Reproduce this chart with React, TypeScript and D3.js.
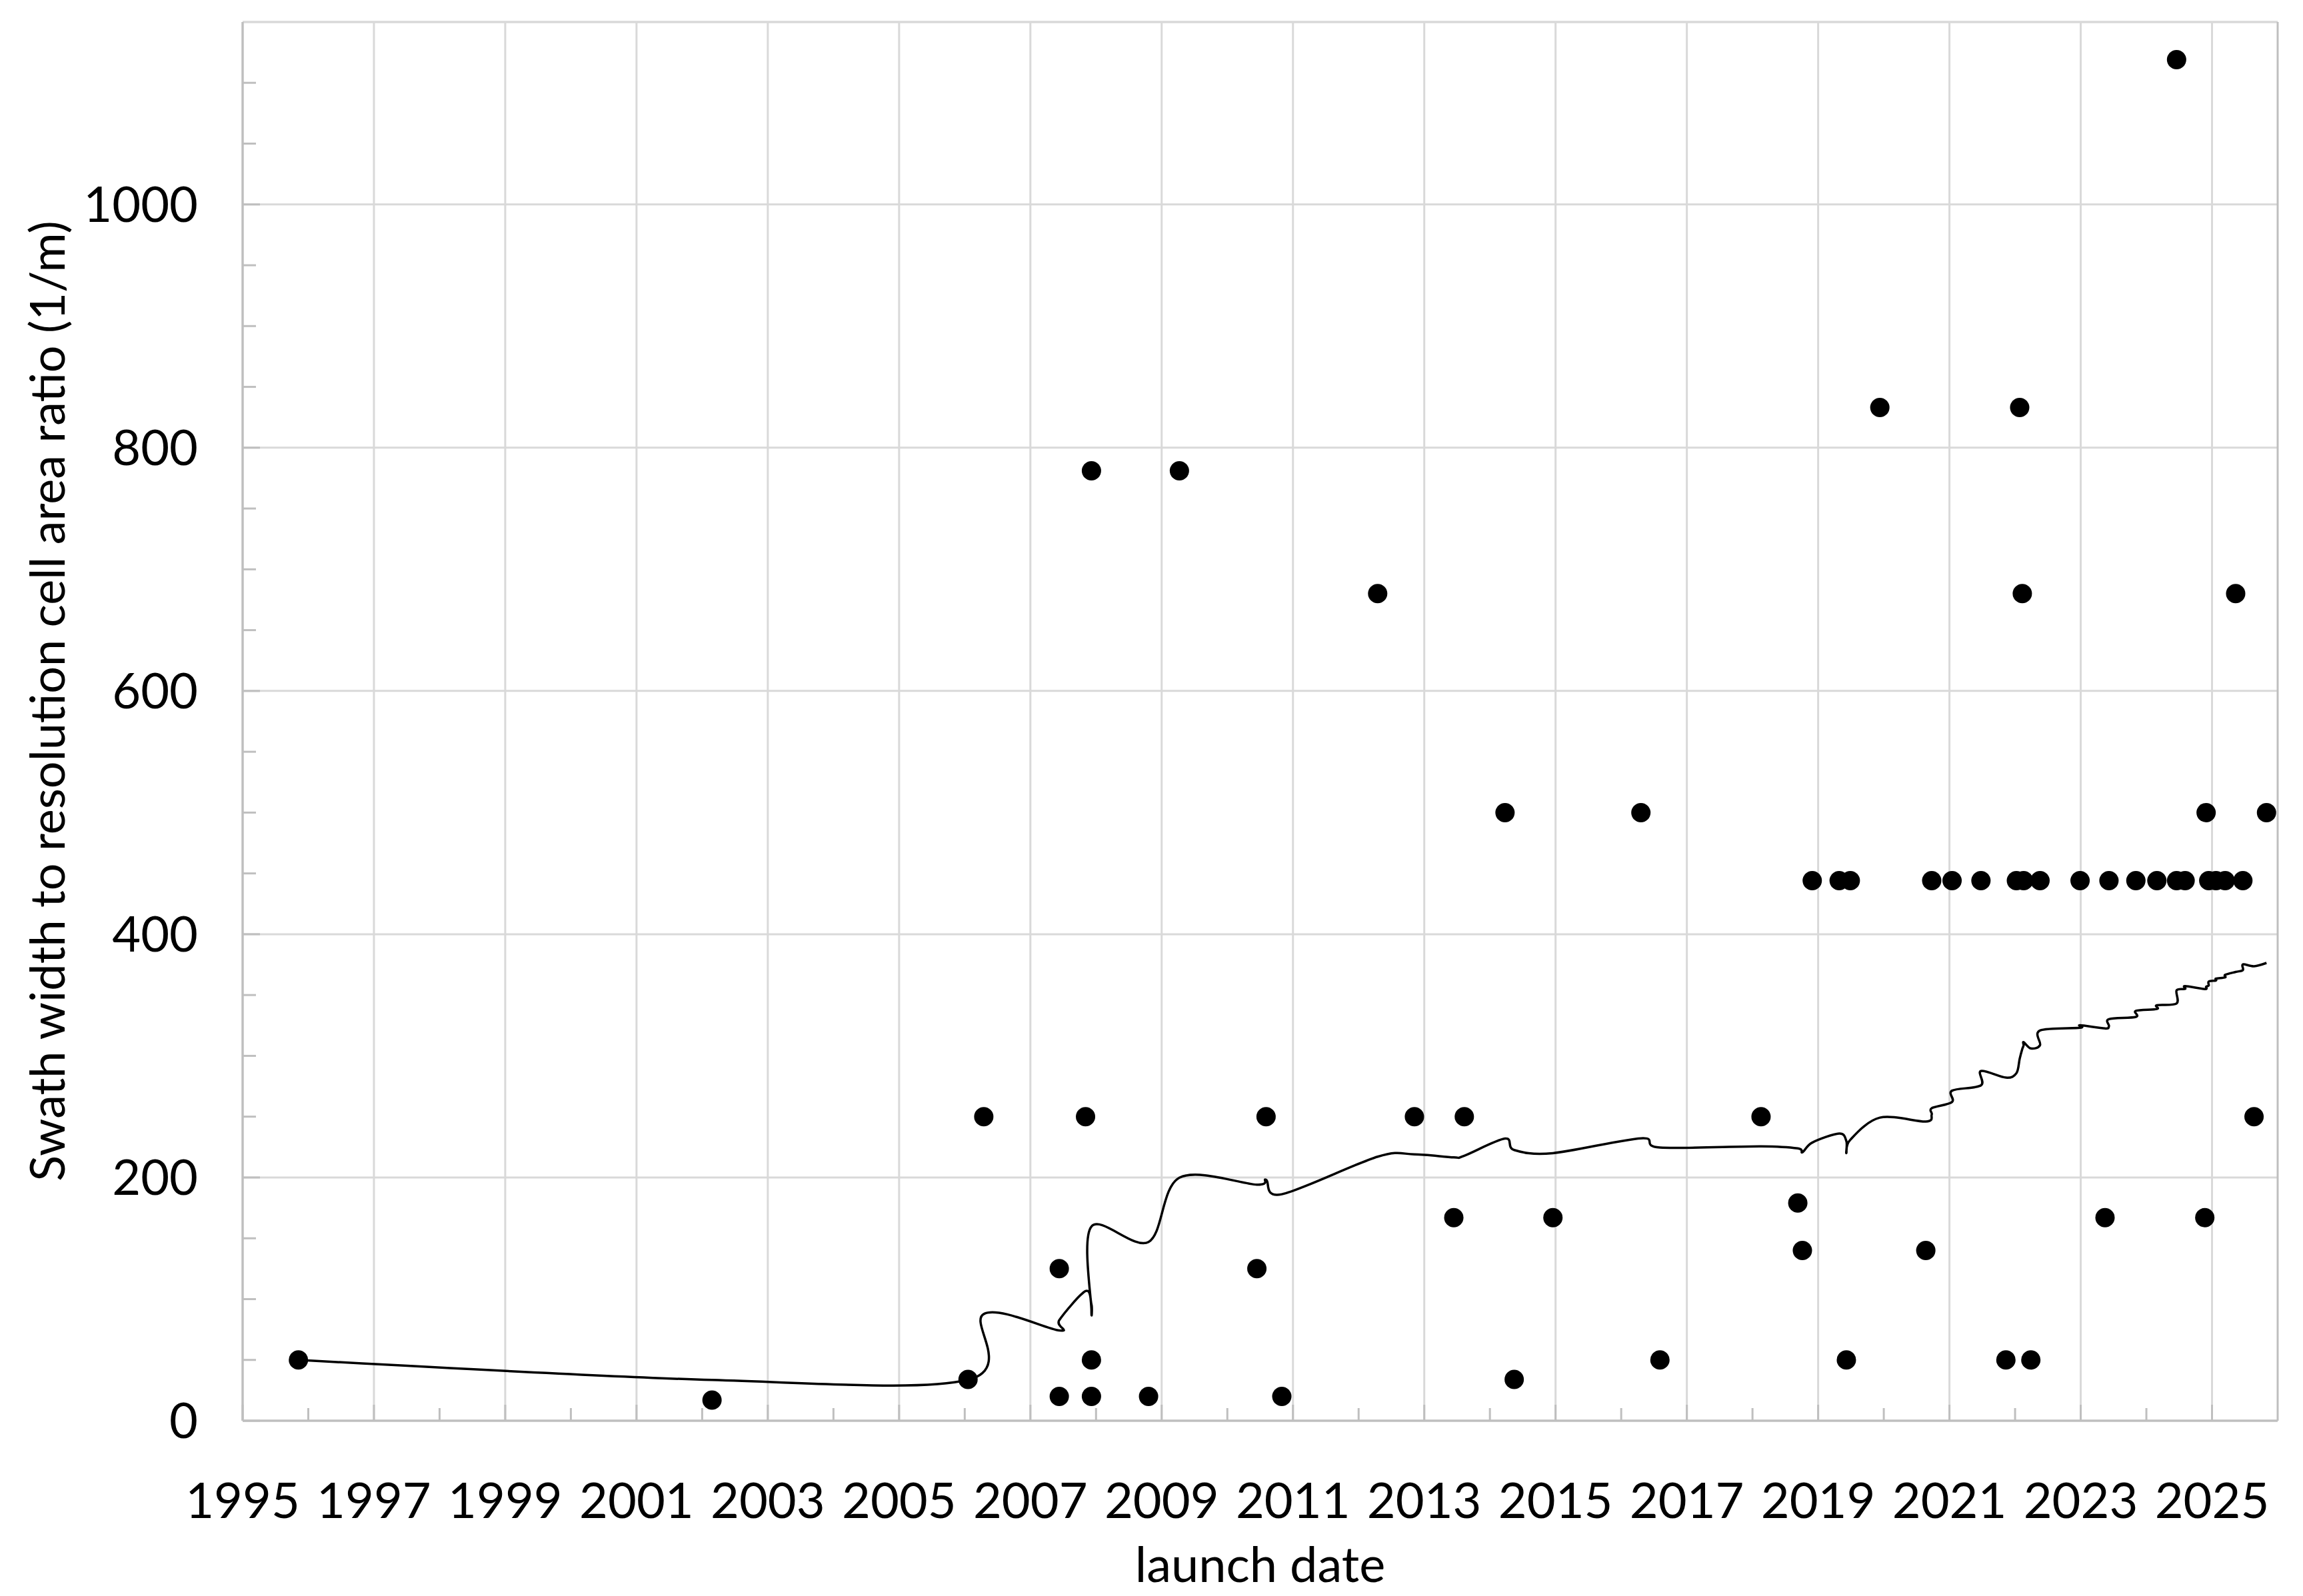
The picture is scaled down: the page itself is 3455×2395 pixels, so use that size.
import React from "react";
import * as d3 from "d3";

// ---- scatter data (launch date in decimal years, ratio in 1/m) ----
const launchYears = [
  1995.85, 2002.15, 2006.05, 2006.29, 2007.44, 2007.44, 2007.84, 2007.93, 2007.93, 2007.93,
  2008.8, 2009.27, 2010.45, 2010.59, 2010.83, 2012.29, 2012.85, 2013.45, 2013.61, 2014.23,
  2014.37, 2014.96, 2016.3, 2016.59, 2018.13, 2018.69, 2018.76, 2018.91, 2019.32, 2019.43,
  2019.49, 2019.94, 2020.64, 2020.73, 2021.04, 2021.48, 2021.86, 2022.02, 2022.07, 2022.11,
  2022.13, 2022.24, 2022.38, 2022.99, 2023.37, 2023.43, 2023.84, 2024.16, 2024.46, 2024.46,
  2024.59, 2024.89, 2024.91, 2024.95, 2025.06, 2025.2, 2025.36, 2025.47, 2025.64, 2025.83,
];
const ratios = [
  50, 17, 34, 250, 20, 125, 250, 20, 50, 781,
  20, 781, 125, 250, 20, 680, 250, 167, 250, 500,
  34, 167, 500, 50, 250, 179, 140, 444, 444, 50,
  444, 833, 140, 444, 444, 444, 50, 444, 833, 680,
  444, 50, 444, 444, 167, 444, 444, 444, 1119, 444,
  444, 167, 500, 444, 444, 444, 680, 444, 250, 500,
];

// ---- trend line vertices ----
const trendYears = [
  1995.85, 2002.15, 2006.05, 2006.29, 2007.44, 2007.44, 2007.84, 2007.93, 2007.93, 2007.93,
  2008.8, 2009.27, 2010.45, 2010.59, 2010.83, 2012.29, 2012.85, 2013.45, 2013.61, 2014.23,
  2014.37, 2014.96, 2016.3, 2016.59, 2018.13, 2018.69, 2018.76, 2018.91, 2019.32, 2019.43,
  2019.43, 2019.49, 2019.94, 2020.64, 2020.73, 2020.73, 2021.04, 2021.04, 2021.48, 2021.48,
  2021.86, 2022.02, 2022.07, 2022.11, 2022.13, 2022.13, 2022.24, 2022.38, 2022.38, 2022.99,
  2022.99, 2023.37, 2023.43, 2023.43, 2023.84, 2023.84, 2024.16, 2024.16, 2024.46, 2024.46,
  2024.59, 2024.59, 2024.89, 2024.91, 2024.95, 2024.95, 2025.06, 2025.06, 2025.2, 2025.2,
  2025.36, 2025.47, 2025.47, 2025.64, 2025.83,
];
const trendValues = [
  50, 33.5, 33.7, 87.75, 74.2, 82.7, 106.6, 95.75, 90.7, 159.7,
  147.0, 199.8, 194.1, 198.1, 186.2, 217.1, 219.0, 216.5, 217.9, 232.0,
  222.6, 220.0, 232.2, 224.6, 225.6, 223.9, 220.7, 228.7, 236.1, 229.9,
  220.0, 231.0, 249.2, 246.0, 251.7, 257.0, 262.1, 271.4, 275.7, 287.5,
  282.1, 285.7, 297.6, 305.7, 308.6, 311.3, 306.1, 308.8, 320.9, 323.1,
  325.1, 322.5, 324.5, 330.2, 332.0, 337.0, 338.5, 341.6, 343.0, 353.8,
  355.0, 357.4, 354.9, 356.8, 357.9, 361.1, 362.0, 363.5, 364.5, 366.6,
  369.0, 370.5, 375.2, 373.7, 376.4,
];

const xTickYears = d3.range(1995, 2026, 2); // labelled odd years
const xMinorYears = d3.range(1996, 2026, 2);
const yTickValues = [0, 200, 400, 600, 800, 1000];
const yMinorValues = d3.range(50, 1150, 50).filter((v) => v % 200 !== 0);

const X_TITLE = "launch date";
const Y_TITLE = "Swath width to resolution cell area ratio (1/m)";

const FONT = "Lato, 'Open Sans', 'Noto Sans', sans-serif";

export default function App() {
  const W = 3455;
  const H = 2395;
  const left = 364;
  const right = 3417;
  const top = 33;
  const bottom = 2132;

  const x = d3.scaleLinear().domain([1995, 2026]).range([left, right]);
  const y = d3.scaleLinear().domain([0, 1150]).range([bottom, top]);

  const trend = trendYears.map((yr, i) => [yr, trendValues[i]] as [number, number]);
  const lineGen = d3
    .line<[number, number]>()
    .x((d) => x(d[0]))
    .y((d) => y(d[1]))
    .curve(d3.curveCardinal.tension(0));

  const gridColor = "#d9d9d9";
  const axisColor = "#bfbfbf";

  return (
    <svg
      width={W}
      height={H}
      viewBox={`0 0 ${W} ${H}`}
      style={{ position: "absolute", left: 0, top: 0, background: "#fff" }}
    >
      <rect x={0} y={0} width={W} height={H} fill="#fff" />
      {/* horizontal gridlines */}
      {yTickValues
        .filter((v) => v > 0)
        .map((v) => (
          <line key={"hg" + v} x1={left} x2={right} y1={y(v)} y2={y(v)} stroke={gridColor} strokeWidth={3} />
        ))}
      {/* vertical gridlines */}
      {xTickYears
        .filter((v) => v > 1995)
        .map((v) => (
          <line key={"vg" + v} x1={x(v)} x2={x(v)} y1={top} y2={bottom} stroke={gridColor} strokeWidth={3} />
        ))}
      {/* plot border top & right */}
      <line x1={left} x2={right} y1={top} y2={top} stroke={gridColor} strokeWidth={3.5} />
      <line x1={right} x2={right} y1={top} y2={bottom} stroke={axisColor} strokeWidth={3} />
      {/* axes */}
      <line x1={left} x2={left} y1={top} y2={bottom} stroke={axisColor} strokeWidth={3.5} />
      <line x1={left} x2={right} y1={bottom} y2={bottom} stroke={axisColor} strokeWidth={3.5} />
      {/* y minor ticks */}
      {yMinorValues.map((v) => (
        <line key={"ym" + v} x1={left} x2={left + 20} y1={y(v)} y2={y(v)} stroke={axisColor} strokeWidth={3} />
      ))}
      {yTickValues.map((v) => (
        <line key={"yt" + v} x1={left} x2={left + 26} y1={y(v)} y2={y(v)} stroke={axisColor} strokeWidth={3} />
      ))}
      {/* x ticks */}
      {xMinorYears.map((v) => (
        <line key={"xm" + v} x1={x(v)} x2={x(v)} y1={bottom} y2={bottom - 19} stroke={axisColor} strokeWidth={3} />
      ))}
      {xTickYears.map((v) => (
        <line key={"xt" + v} x1={x(v)} x2={x(v)} y1={bottom} y2={bottom - 24} stroke={axisColor} strokeWidth={3} />
      ))}
      {/* y tick labels */}
      {yTickValues.map((v) => (
        <text
          key={"yl" + v}
          x={297}
          y={y(v)}
          dy="0.35em"
          textAnchor="end"
          fontFamily={FONT}
          fontSize={74}
          fill="#000"
        >
          {v}
        </text>
      ))}
      {/* x tick labels */}
      {xTickYears.map((v) => (
        <text
          key={"xl" + v}
          x={x(v)}
          y={2278}
          textAnchor="middle"
          fontFamily={FONT}
          fontSize={74}
          fill="#000"
        >
          {v}
        </text>
      ))}
      {/* trend line */}
      <path d={lineGen(trend) || ""} fill="none" stroke="#000" strokeWidth={3.5} strokeLinejoin="round" />
      {/* points */}
      {launchYears.map((yr, i) => (
        <circle key={"p" + i} cx={x(yr)} cy={y(ratios[i])} r={14.5} fill="#000" />
      ))}
      {/* axis titles */}
      <text x={(left + right) / 2} y={2374} textAnchor="middle" fontFamily={FONT} fontSize={74} fill="#000">
        {X_TITLE}
      </text>
      <text
        transform={`translate(97, 1052) rotate(-90)`}
        textAnchor="middle"
        fontFamily={FONT}
        fontSize={72}
        fill="#000"
      >
        {Y_TITLE}
      </text>
    </svg>
  );
}
